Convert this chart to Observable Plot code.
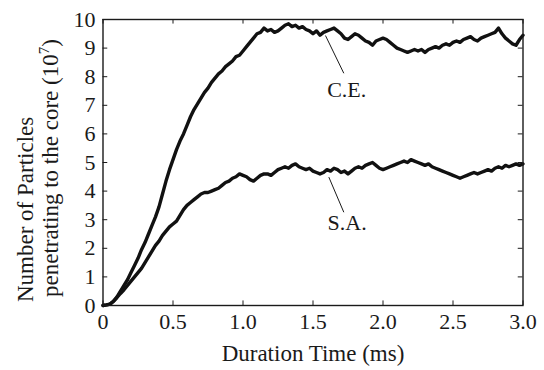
<!DOCTYPE html>
<html><head><meta charset="utf-8">
<script src="https://cdn.jsdelivr.net/npm/d3@7"></script>
<script src="https://cdn.jsdelivr.net/npm/@observablehq/plot@0.6"></script>
<style>
body{margin:0;background:#fff;}
svg{display:block;}
svg text, svg tspan{font-family:"Liberation Serif", serif !important;}
</style>
</head><body><div id="chart"></div>
<script>
// sample times: 0 to 3.0 ms every 0.025 ms
const step = 0.025;
const ceValues = [
0,0.02,0.05,0.15,0.3,0.5,0.7,0.9,1.15,1.4,
1.65,1.95,2.2,2.5,2.8,3.1,3.45,3.9,4.35,4.75,
5.1,5.45,5.75,6.0,6.3,6.6,6.85,7.05,7.25,7.45,
7.6,7.8,7.95,8.1,8.2,8.35,8.45,8.55,8.7,8.75,
8.9,9.05,9.2,9.35,9.5,9.55,9.7,9.6,9.65,9.55,
9.6,9.7,9.8,9.85,9.75,9.8,9.7,9.75,9.65,9.6,
9.5,9.6,9.45,9.55,9.6,9.65,9.7,9.6,9.5,9.35,
9.3,9.4,9.5,9.45,9.35,9.25,9.2,9.1,9.25,9.3,
9.35,9.3,9.2,9.1,9.0,8.95,8.9,8.85,8.9,8.95,
8.9,8.95,8.85,8.95,9.0,9.05,9.0,9.1,9.15,9.1,
9.2,9.25,9.2,9.3,9.35,9.4,9.3,9.25,9.35,9.4,
9.45,9.5,9.55,9.7,9.5,9.35,9.25,9.15,9.1,9.3,
9.45];
const saValues = [
0,0.02,0.05,0.15,0.28,0.42,0.55,0.7,0.85,1.0,
1.15,1.3,1.5,1.7,1.9,2.1,2.25,2.45,2.6,2.75,
2.85,2.95,3.15,3.35,3.5,3.6,3.7,3.8,3.9,3.95,
3.95,4.0,4.05,4.1,4.2,4.3,4.35,4.45,4.5,4.6,
4.55,4.5,4.4,4.35,4.45,4.55,4.6,4.6,4.55,4.65,
4.75,4.8,4.85,4.8,4.9,4.95,4.85,4.8,4.75,4.8,
4.7,4.65,4.6,4.65,4.75,4.7,4.8,4.75,4.65,4.7,
4.6,4.7,4.8,4.85,4.8,4.9,4.95,5.0,4.9,4.8,
4.75,4.8,4.85,4.9,4.95,5.0,5.05,5.0,5.1,5.05,
5.0,4.95,4.9,4.95,4.85,4.8,4.75,4.7,4.65,4.6,
4.55,4.5,4.45,4.5,4.55,4.6,4.65,4.6,4.65,4.7,
4.75,4.7,4.8,4.85,4.8,4.9,4.85,4.9,4.95,4.9,
4.95];
const seriesNames = ["C.E.", "S.A."];
const xTicks = [0, 0.5, 1.0, 1.5, 2.0, 2.5, 3.0];
const yTicks = [0, 1, 2, 3, 4, 5, 6, 7, 8, 9, 10];
const labelNames = ["C.E.", "S.A."];
const labelT = [1.741, 1.744];
const labelV = [7.53, 2.87];
const leaderT1 = [1.589, 1.613];
const leaderV1 = [9.44, 4.49];
const leaderT2 = [1.72, 1.72];
const leaderV2 = [8.12, 3.26];
const xTitle = "Duration Time (ms)";
const yTitle1 = "Number of Particles";
const yTitle2 = "penetrating to the core (10";
const yTitleSup = "7";

const rows = [ceValues, saValues].flatMap((vals, s) =>
  vals.map((v, i) => ({series: seriesNames[s], t: i * step, v})));
const labels = labelNames.map((name, i) => ({name, t: labelT[i], v: labelV[i]}));
const leaders = labelNames.map((name, i) => ({x1: leaderT1[i], y1: leaderV1[i], x2: leaderT2[i], y2: leaderV2[i]}));

const ink = "#1a1a1a";
const font = "Liberation Serif";
const chart = Plot.plot({
  width: 544, height: 370,
  marginLeft: 102.5, marginRight: 21.5, marginTop: 19, marginBottom: 65,
  x: {domain: [0, 3]},
  y: {domain: [0, 10]},
  style: {fontFamily: font, color: ink, background: "white"},
  marks: [
    Plot.line(rows, {x: "t", y: "v", z: "series", stroke: "#111", strokeWidth: 3.4}),
    Plot.link(leaders, {x1: "x1", y1: "y1", x2: "x2", y2: "y2", stroke: ink, strokeWidth: 1}),
    Plot.text(labels, {x: "t", y: "v", text: "name", fontSize: 22, fill: ink}),
    Plot.ruleX(xTicks, {x: d => d, y1: 0, y2: 0.16, stroke: ink, strokeWidth: 1}),
    Plot.ruleX(xTicks, {x: d => d, y1: 10, y2: 9.84, stroke: ink, strokeWidth: 1}),
    Plot.ruleY(yTicks, {y: d => d, x1: 0, x2: 0.034, stroke: ink, strokeWidth: 1}),
    Plot.ruleY(yTicks, {y: d => d, x1: 3, x2: 2.966, stroke: ink, strokeWidth: 1}),
    Plot.frame({stroke: ink, strokeWidth: 1.4}),
    Plot.axisX({ticks: xTicks, tickSize: 0, tickPadding: 7.4, fontSize: 22, label: null,
      tickFormat: d => d === 0 ? "0" : d.toFixed(1)}),
    Plot.axisY({ticks: yTicks, tickSize: 0, tickPadding: 7.5, fontSize: 22, label: null}),
    Plot.text([xTitle], {frameAnchor: "bottom", dy: 39.4, lineAnchor: "top", fontSize: 23, fill: ink})
  ]
});
document.getElementById("chart").appendChild(chart);

const svg = d3.select(chart);
const g = svg.append("g")
  .attr("font-family", font)
  .attr("font-size", 23).attr("fill", ink);
g.append("text").attr("transform", "translate(33,302) rotate(-90)")
  .attr("text-anchor", "start").text(yTitle1);
const t2 = g.append("text").attr("transform", "translate(58,297) rotate(-90)")
  .attr("text-anchor", "start");
t2.append("tspan").text(yTitle2);
t2.append("tspan").attr("dy", -9).attr("font-size", 15).text(yTitleSup);
t2.append("tspan").attr("dy", 9).text(")");
</script>
</body></html>
